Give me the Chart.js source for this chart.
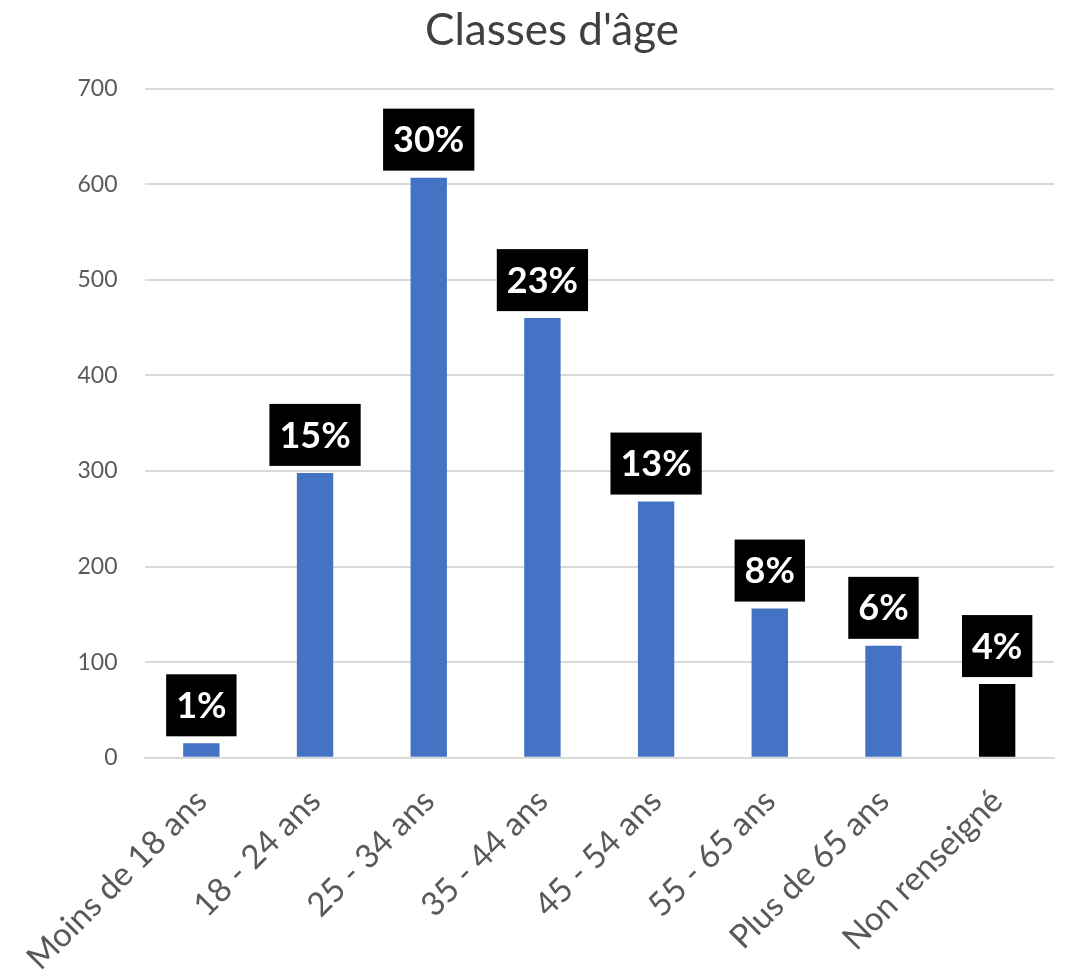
<!DOCTYPE html>
<html>
<head>
<meta charset="utf-8">
<script src="https://cdn.jsdelivr.net/npm/chart.js@4"></script>
<style>
  html, body { margin: 0; padding: 0; background: #fff; }
  #wrap { width: 1066px; height: 978px; position: relative; }
</style>
</head>
<body>
<div id="wrap"><canvas id="bar-chart"></canvas></div>
<script>
// données
var categories = ['Moins de 18 ans', '18 - 24 ans', '25 - 34 ans', '35 - 44 ans', '45 - 54 ans', '55 - 65 ans', 'Plus de 65 ans', 'Non renseigné'];
var effectifs = [15, 298, 607, 460, 268, 156, 117, 77];
var pourcentages = ['1%', '15%', '30%', '23%', '13%', '8%', '6%', '4%'];
var yTicks = [0, 100, 200, 300, 400, 500, 600, 700];

var barColors = [];
for (var i = 0; i < categories.length; i++) {
    barColors.push(i == categories.length - 1 ? '#000000' : '#4472C4');
}

/* étiquettes noires au-dessus des barres */
var labelBoxes = {
    id: 'labelBoxes',
    afterDatasetsDraw: function(chart){
        var ctx = chart.ctx;
        var meta = chart.getDatasetMeta(0);
        ctx.save();
        ctx.font = 'bold 36px Lato';
        ctx.textAlign = 'center';
        ctx.textBaseline = 'middle';
        meta.data.forEach(function(bar, i){
            var txt = pourcentages[i];
            var w = ctx.measureText(txt).width + 20;
            var h = 62;
            var bottom = bar.y - 7;
            ctx.fillStyle = '#000000';
            ctx.fillRect(bar.x - w / 2, bottom - h, w, h);
            ctx.fillStyle = '#ffffff';
            ctx.fillText(txt, bar.x, bottom - h / 2 + 1);
        });
        ctx.restore();
    }
};

var barctx = document.getElementById('bar-chart');
var barChart = new Chart(barctx, {
    type: 'bar',
    data: {
        labels: categories,
        datasets: [{
            data: effectifs,
            backgroundColor: barColors,
            barPercentage: 0.64,
            categoryPercentage: 0.5
        }]
    },
    options: {
        responsive: true,
        maintainAspectRatio: false,
        animation: false,
        layout: { padding: { left: 50, right: 12, top: 4, bottom: -24 } },
        plugins: {
            legend: { display: false },
            tooltip: { enabled: false },
            title: {
                display: true,
                text: "Classes d'âge",
                color: '#404040',
                font: { family: 'Lato', size: 44, weight: 'normal' },
                padding: { top: 0, bottom: 32 }
            }
        },
        scales: {
            x: {
                grid: { display: false, drawTicks: false },
                border: { color: '#d9d9d9', width: 2 },
                ticks: {
                    color: '#595959',
                    font: { family: 'Lato', size: 33 },
                    minRotation: 45,
                    maxRotation: 45,
                    padding: 24
                }
            },
            y: {
                min: 0,
                max: 700,
                afterBuildTicks: function(axis){
                    axis.ticks = yTicks.map(function(v){ return { value: v }; });
                },
                grid: { color: '#d9d9d9', lineWidth: 2, drawTicks: false },
                border: { display: false },
                ticks: {
                    color: '#595959',
                    font: { family: 'Lato', size: 23 },
                    padding: 27
                }
            }
        }
    },
    plugins: [labelBoxes]
});
</script>
</body>
</html>
